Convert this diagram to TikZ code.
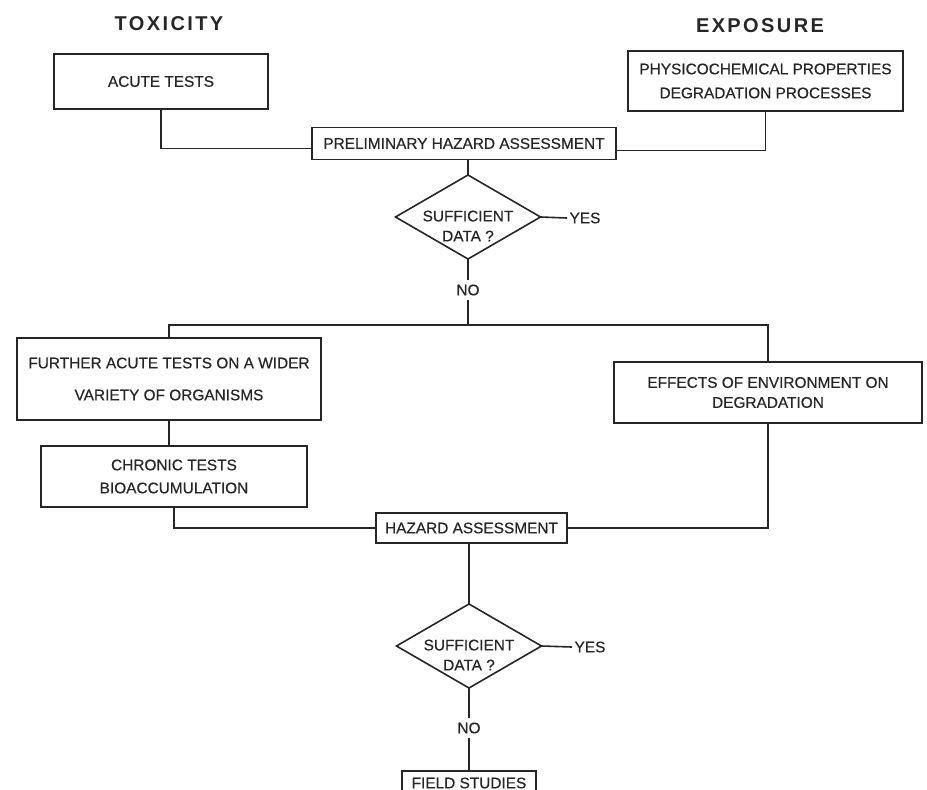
\documentclass[tikz,border=0pt]{standalone}
\usepackage{fontspec}
\setmainfont{Liberation Sans}[FakeBold=0.5]
\newfontfamily\headfont{Liberation Sans}[LetterSpace=12]
\usetikzlibrary{shapes.geometric}

\begin{document}
\begin{tikzpicture}[x=1pt,y=-1pt,line width=1.6pt,color=black!85,
	every node/.style={align=center,font=\fontsize{15.4}{20}\selectfont},
	box/.style={draw,rectangle,inner sep=0pt,outer sep=0pt},
	decision/.style={draw,diamond,inner sep=0pt,outer sep=0pt,minimum width=145pt,minimum height=84pt},
	head/.style={font=\headfont\bfseries\fontsize{20}{24}\selectfont}]
		\useasboundingbox (0,0) rectangle (927,790);
		\node[head] at (169,24) {TOXICITY};
		\node[head] at (760,26) {EXPOSURE};
		\node[box,minimum width=214pt,minimum height=55pt] (acute) at (161,81.5) {ACUTE TESTS};
		\node[box,minimum width=275pt,minimum height=60pt] (physico) at (765.5,81) {PHYSICOCHEMICAL PROPERTIES\\[4pt]DEGRADATION PROCESSES};
		\node[box,minimum width=304pt,minimum height=32pt] (prelim) at (464,143.5) {PRELIMINARY HAZARD ASSESSMENT};
		\node[decision] (check1) at (468,217) {};
		\node at (468,226) {SUFFICIENT\\DATA ?};
		\node[inner sep=2pt] (yes1) at (585,218) {YES};
		\node (no1) at (468,290) {NO};
		\coordinate (split1) at (468,325);
		\node[box,minimum width=304pt,minimum height=82pt] (further) at (169,379) {FURTHER ACUTE TESTS ON A WIDER\\[12pt]VARIETY OF ORGANISMS};
		\node[box,minimum width=266pt,minimum height=61pt] (chronic) at (174,476.5) {CHRONIC TESTS\\[3pt]BIOACCUMULATION};
		\node[box,minimum width=308pt,minimum height=61pt] (effects) at (768,392.5) {EFFECTS OF ENVIRONMENT ON\\DEGRADATION};
		\node[box,minimum width=191pt,minimum height=30pt] (hazard) at (471.5,528) {HAZARD ASSESSMENT};
		\node[decision] (check2) at (469,646) {};
		\node at (469,655) {SUFFICIENT\\DATA ?};
		\node[inner sep=2pt] (yes2) at (590,647) {YES};
		\node (no2) at (469,728) {NO};
		\node[box,minimum width=134pt,minimum height=24pt] (field) at (469,783) {FIELD STUDIES};

		\draw (acute.south) |- ([yshift=-5pt]prelim.west);
		\draw (physico.south) |- ([yshift=-7pt]prelim.east);
		\draw (check1.north |- prelim.south) -- (check1.north);
		\draw (check1.east) -- (yes1.west);
		\draw (check1.south) -- (no1.north);
		\draw (no1.south) -- (split1);
		\draw (further.north) |- (split1) -| (effects.north);
		\draw (further.south) -- (further.south |- chronic.north);
		\draw (chronic.south) |- (hazard.west);
		\draw (effects.south) |- (hazard.east);
		\draw (check2.north |- hazard.south) -- (check2.north);
		\draw (check2.east) -- (yes2.west);
		\draw (check2.south) -- (no2.north);
		\draw (no2.south) -- (field.north);
\end{tikzpicture}
\end{document}
